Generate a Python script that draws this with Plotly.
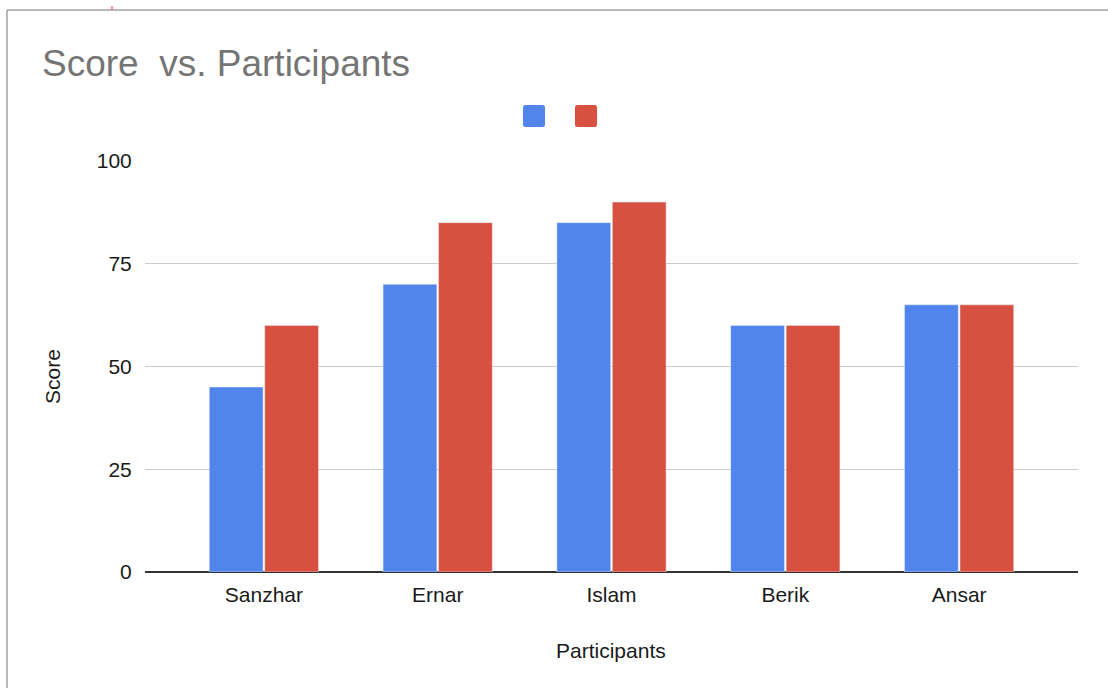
import plotly.graph_objects as go

participants = ["Sanzhar", "Ernar", "Islam", "Berik", "Ansar"]
score_a = [45, 70, 85, 60, 65]
score_b = [60, 85, 90, 60, 65]
y_ticks = [0, 25, 50, 75, 100]

BLUE = "#5185ec"
RED = "#d85140"
W, H = 1108, 688
L, R, T, B = 145, 30, 161, 116
PW, PH = W - L - R, H - T - B
FONT = "Liberation Sans, Arial, sans-serif"
TXT = "#1a1a1a"


def px_x(p):
    return (p - L) / PW


def px_y(p):
    return (H - B - p) / PH


def rounded_square(x0, y0, size, r):
    x1, y1 = x0 + size, y0 + size
    pts = [
        f"M {px_x(x0 + r)} {px_y(y0)}",
        f"L {px_x(x1 - r)} {px_y(y0)}",
        f"Q {px_x(x1)} {px_y(y0)} {px_x(x1)} {px_y(y0 + r)}",
        f"L {px_x(x1)} {px_y(y1 - r)}",
        f"Q {px_x(x1)} {px_y(y1)} {px_x(x1 - r)} {px_y(y1)}",
        f"L {px_x(x0 + r)} {px_y(y1)}",
        f"Q {px_x(x0)} {px_y(y1)} {px_x(x0)} {px_y(y1 - r)}",
        f"L {px_x(x0)} {px_y(y0 + r)}",
        f"Q {px_x(x0)} {px_y(y0)} {px_x(x0 + r)} {px_y(y0)}",
        "Z",
    ]
    return " ".join(pts)


fig = go.Figure()
fig.add_trace(go.Bar(x=participants, y=score_a, marker_color=BLUE, showlegend=False))
fig.add_trace(go.Bar(x=participants, y=score_b, marker_color=RED, showlegend=False))

shapes = [
    dict(type="line", xref="paper", yref="paper", x0=px_x(7), x1=px_x(W + 5), y0=px_y(10), y1=px_y(10),
         line=dict(color="#a0a0a0", width=1.5)),
    dict(type="line", xref="paper", yref="paper", x0=px_x(7), x1=px_x(7), y0=px_y(10), y1=px_y(H + 5),
         line=dict(color="#a0a0a0", width=1.5)),
    dict(type="line", xref="paper", yref="paper", x0=px_x(112), x1=px_x(112), y0=px_y(6), y1=px_y(10),
         line=dict(color="#e53935", width=1)),
]
for x0, col in [(523, BLUE), (575, RED)]:
    shapes.append(dict(type="path", xref="paper", yref="paper",
                       path=rounded_square(x0, 105, 22, 2.5),
                       fillcolor=col, line=dict(width=0)))

fig.update_layout(
    width=W, height=H,
    margin=dict(l=L, r=R, t=T, b=B),
    paper_bgcolor="white", plot_bgcolor="white",
    font=dict(family=FONT, color=TXT, size=21),
    barmode="group", bargap=0.362, bargroupgap=0.03,
    title=dict(text="Score  vs. Participants", x=42 / W, xanchor="left", xref="container",
               y=1 - 63 / H, yanchor="middle", yref="container",
               font=dict(size=37, color="#757575", family=FONT)),
    shapes=shapes,
    annotations=[
        dict(text="Score", xref="paper", yref="paper", x=px_x(52), y=px_y(377),
             textangle=-90, showarrow=False, xanchor="center", yanchor="middle",
             font=dict(size=21, color=TXT, family=FONT)),
        dict(text="Participants", xref="paper", yref="paper", x=px_x(611), y=px_y(650),
             showarrow=False, xanchor="center", yanchor="middle",
             font=dict(size=21, color=TXT, family=FONT)),
    ],
)
fig.update_xaxes(range=[-0.684, 4.684], showgrid=False, ticks="outside", ticklen=4,
                 tickcolor="rgba(0,0,0,0)", showline=False, zeroline=False,
                 tickfont=dict(size=21, color=TXT, family=FONT))
fig.update_yaxes(range=[0, 100], tickvals=y_ticks, showgrid=True, gridcolor="#cccccc", gridwidth=1,
                 zeroline=True, zerolinecolor="#333333", zerolinewidth=1.5,
                 ticks="outside", ticklen=8, tickcolor="rgba(0,0,0,0)",
                 tickfont=dict(size=21, color=TXT, family=FONT), showline=False)

fig.write_html("out.html")
